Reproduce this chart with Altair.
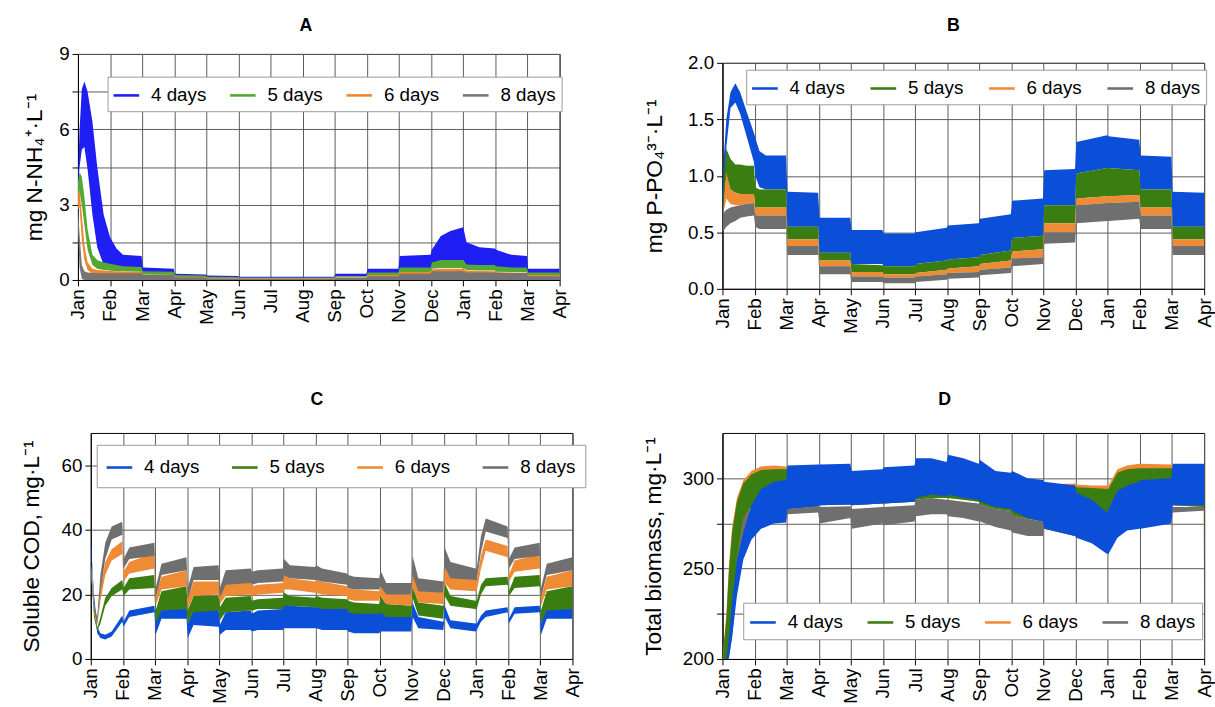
import altair as alt
import pandas as pd

FONT = "Liberation Sans"
SERIES = ["4 days", "5 days", "6 days", "8 days"]
MONTH_LABELS = ["Jan", "Feb", "Mar", "Apr", "May", "Jun", "Jul", "Aug",
                "Sep", "Oct", "Nov", "Dec", "Jan", "Feb", "Mar", "Apr"]
MONTH_TICKS = [0, 1, 2, 3, 4, 5, 6, 7, 8, 9, 10, 11, 12, 13, 14, 15]

COLORS_A = ["#1e1ef5", "#52a830", "#f0852d", "#757575"]
COLORS_BCD = ["#0b4fd8", "#3a7d10", "#ef8a35", "#6f6f6f"]

# ---------------- Panel A : ammonium (mg N-NH4+/L) ----------------
TA = [0, 0.05, 0.12, 0.2, 0.3, 0.45, 0.6, 0.8, 1.0, 1.2, 1.4, 1.98, 2.02, 2.98, 3.02, 3.98,
      4.02, 4.98, 5.02, 7.98, 8.02, 8.98, 9.02, 9.98, 10.02, 10.98, 11.02, 11.3, 11.6, 12.0,
      12.1, 12.5, 12.98, 13.02, 13.5, 13.98, 14.02, 15.0]
A4_hi = [4.0, 6.0, 7.6, 7.9, 7.5, 6.3, 4.5, 2.6, 1.7, 1.25, 1.0, 0.95, 0.5, 0.45, 0.25, 0.22,
         0.18, 0.16, 0.13, 0.13, 0.25, 0.25, 0.45, 0.45, 0.95, 1.0, 1.2, 1.75, 1.95, 2.1,
         1.5, 1.3, 1.25, 1.2, 1.0, 0.95, 0.45, 0.45]
A4_lo = [3.7, 4.5, 5.2, 5.3, 4.4, 2.6, 1.3, 0.6, 0.55, 0.55, 0.5, 0.5, 0.3, 0.3, 0.15, 0.15,
         0.1, 0.1, 0.08, 0.08, 0.15, 0.15, 0.25, 0.25, 0.45, 0.45, 0.6, 0.7, 0.7, 0.7,
         0.55, 0.5, 0.5, 0.45, 0.45, 0.45, 0.25, 0.25]
A5_hi = [3.9, 4.3, 4.1, 3.3, 2.0, 1.0, 0.8, 0.7, 0.65, 0.6, 0.55, 0.52, 0.35, 0.33, 0.2, 0.18,
         0.13, 0.12, 0.1, 0.1, 0.15, 0.15, 0.3, 0.3, 0.5, 0.5, 0.7, 0.8, 0.8, 0.8,
         0.62, 0.6, 0.6, 0.55, 0.5, 0.5, 0.3, 0.3]
A5_lo = [3.0, 3.5, 3.0, 2.2, 1.2, 0.6, 0.45, 0.4, 0.38, 0.35, 0.35, 0.33, 0.22, 0.2, 0.12, 0.11,
         0.08, 0.08, 0.06, 0.06, 0.1, 0.1, 0.2, 0.2, 0.32, 0.32, 0.45, 0.48, 0.48, 0.48,
         0.4, 0.38, 0.38, 0.33, 0.32, 0.32, 0.2, 0.2]
A6_hi = [3.4, 3.6, 2.6, 1.4, 0.7, 0.45, 0.4, 0.38, 0.36, 0.35, 0.34, 0.33, 0.22, 0.21, 0.13, 0.12,
         0.09, 0.09, 0.07, 0.07, 0.1, 0.1, 0.2, 0.2, 0.32, 0.32, 0.42, 0.45, 0.45, 0.45,
         0.38, 0.36, 0.35, 0.32, 0.3, 0.3, 0.2, 0.2]
A6_lo = [2.8, 2.9, 1.6, 0.8, 0.4, 0.25, 0.22, 0.2, 0.2, 0.2, 0.2, 0.2, 0.13, 0.13, 0.08, 0.08,
         0.05, 0.05, 0.04, 0.04, 0.06, 0.06, 0.12, 0.12, 0.2, 0.2, 0.26, 0.28, 0.28, 0.28,
         0.24, 0.22, 0.22, 0.2, 0.19, 0.19, 0.12, 0.12]
A8_hi = [3.0, 1.8, 0.6, 0.35, 0.3, 0.28, 0.27, 0.27, 0.27, 0.27, 0.27, 0.27, 0.2, 0.2, 0.1, 0.1,
         0.06, 0.06, 0.05, 0.05, 0.08, 0.08, 0.15, 0.15, 0.25, 0.25, 0.35, 0.35, 0.35, 0.35,
         0.3, 0.3, 0.3, 0.28, 0.28, 0.28, 0.15, 0.15]
A8_lo = [2.0, 0.5, 0.05, 0.0, 0.0, 0.0, 0.0, 0.0, 0.0, 0.0, 0.0, 0.0, 0.0, 0.0, 0.0, 0.0,
         0.0, 0.0, 0.0, 0.0, 0.0, 0.0, 0.0, 0.0, 0.0, 0.0, 0.0, 0.0, 0.0, 0.0,
         0.0, 0.0, 0.0, 0.0, 0.0, 0.0, 0.0, 0.0]

# ---------------- Panel B : phosphate (mg P-PO4/L) ----------------
TB = [0, 0.05, 0.12, 0.25, 0.4, 0.55, 0.75, 0.98, 1.02, 1.15, 1.35, 1.98, 2.02, 2.98, 3.02, 3.98,
      4.02, 4.98, 5.02, 5.98, 6.02, 6.98, 7.02, 7.98, 8.02, 8.98, 9.02, 9.98, 10.02, 10.98,
      11.02, 11.98, 12.02, 12.98, 13.02, 13.98, 14.02, 15.0]
B4_hi = [0.5, 1.2, 1.5, 1.74, 1.82, 1.74, 1.57, 1.38, 1.34, 1.22, 1.18, 1.18, 0.86, 0.85, 0.63, 0.63,
         0.52, 0.52, 0.49, 0.49, 0.5, 0.54, 0.56, 0.58, 0.62, 0.66, 0.78, 0.8, 1.05, 1.06,
         1.3, 1.36, 1.35, 1.32, 1.18, 1.17, 0.86, 0.85]
B4_lo = [0.5, 0.75, 1.25, 1.6, 1.65, 1.55, 1.35, 1.12, 1.0, 0.9, 0.88, 0.88, 0.55, 0.55, 0.32, 0.32,
         0.22, 0.22, 0.2, 0.2, 0.22, 0.25, 0.26, 0.28, 0.3, 0.34, 0.45, 0.47, 0.74, 0.74,
         1.02, 1.07, 1.07, 1.05, 0.88, 0.88, 0.55, 0.55]
B5_hi = [0.5, 1.0, 1.24, 1.15, 1.1, 1.1, 1.09, 1.09, 0.9, 0.88, 0.88, 0.88, 0.55, 0.55, 0.32, 0.32,
         0.22, 0.21, 0.2, 0.2, 0.22, 0.25, 0.26, 0.28, 0.3, 0.34, 0.45, 0.47, 0.74, 0.74,
         1.02, 1.07, 1.07, 1.05, 0.88, 0.88, 0.55, 0.55]
B5_lo = [0.5, 0.8, 1.0, 0.88, 0.85, 0.84, 0.84, 0.84, 0.72, 0.72, 0.72, 0.72, 0.44, 0.44, 0.25, 0.25,
         0.15, 0.15, 0.13, 0.13, 0.14, 0.17, 0.18, 0.2, 0.22, 0.25, 0.33, 0.35, 0.58, 0.58,
         0.8, 0.82, 0.82, 0.83, 0.72, 0.72, 0.44, 0.44]
B6_hi = [0.5, 0.8, 1.03, 0.88, 0.85, 0.84, 0.84, 0.84, 0.72, 0.72, 0.72, 0.72, 0.44, 0.44, 0.25, 0.25,
         0.15, 0.15, 0.13, 0.13, 0.14, 0.17, 0.18, 0.2, 0.22, 0.25, 0.33, 0.35, 0.58, 0.58,
         0.8, 0.82, 0.82, 0.83, 0.72, 0.72, 0.44, 0.44]
B6_lo = [0.5, 0.7, 0.8, 0.75, 0.74, 0.74, 0.75, 0.76, 0.65, 0.65, 0.65, 0.65, 0.38, 0.38, 0.2, 0.2,
         0.11, 0.11, 0.1, 0.1, 0.11, 0.13, 0.14, 0.15, 0.17, 0.19, 0.27, 0.28, 0.5, 0.5,
         0.74, 0.76, 0.76, 0.77, 0.65, 0.65, 0.38, 0.38]
B8_hi = [0.5, 0.68, 0.7, 0.72, 0.73, 0.74, 0.75, 0.76, 0.65, 0.65, 0.65, 0.65, 0.38, 0.38, 0.2, 0.2,
         0.11, 0.11, 0.1, 0.1, 0.11, 0.13, 0.14, 0.15, 0.17, 0.19, 0.27, 0.28, 0.5, 0.5,
         0.74, 0.76, 0.76, 0.77, 0.65, 0.65, 0.38, 0.38]
B8_lo = [0.5, 0.52, 0.55, 0.58, 0.6, 0.63, 0.64, 0.65, 0.55, 0.53, 0.53, 0.53, 0.3, 0.3, 0.13, 0.13,
         0.06, 0.06, 0.05, 0.05, 0.06, 0.08, 0.09, 0.1, 0.12, 0.14, 0.2, 0.22, 0.4, 0.41,
         0.58, 0.6, 0.6, 0.62, 0.53, 0.53, 0.3, 0.3]

# ---------------- Panel C : soluble COD (mg/L) ----------------
TC = [0, 0.1, 0.2, 0.3, 0.45, 0.65, 0.98, 1.02, 1.2, 1.98, 2.02, 2.2, 2.98, 3.02, 3.2, 3.98,
      4.02, 4.2, 4.98, 5.02, 5.2, 5.98, 6.02, 6.2, 6.98, 7.02, 7.2, 7.98, 8.02, 8.2, 8.98,
      9.02, 9.2, 9.98, 10.02, 10.2, 10.98, 11.02, 11.2, 11.98, 12.02, 12.15, 12.3, 12.98,
      13.02, 13.2, 13.98, 14.02, 14.2, 14.99, 15.0]
C4_hi = [37, 20, 10, 8, 7.5, 8.5, 13.5, 11.5, 15, 16.5, 12, 16, 17, 11, 15, 15.5,
         10.5, 14.5, 15, 14, 15, 15.5, 17.5, 16.5, 16, 16.5, 16, 15.5, 15, 14.5, 14.5,
         15, 13.5, 13, 17.5, 13, 11.5, 16.5, 12, 11, 11, 13.5, 15, 16,
         12.5, 16, 16.5, 11, 16, 16.5, 16.5]
C4_lo = [35, 17, 8, 6.5, 6, 7, 11.5, 10, 13, 14.5, 7.5, 12.5, 12.5, 6.5, 10.5, 10,
         7.5, 9, 9, 8.5, 9, 9, 9.5, 9.5, 9.5, 9.5, 9, 9, 8.5, 8, 8,
         8.5, 8.5, 8.5, 13, 9.5, 9, 13, 9.5, 8.5, 9, 11.5, 13, 14.5,
         11, 14, 14.5, 7.5, 12.5, 12.5, 12.5]
C5_hi = [30, 15, 9.5, 13, 19, 22, 24.5, 22, 25, 26, 15, 21, 22.5, 15, 19.5, 19.5,
         16, 19, 19.5, 18, 18.5, 19, 20.5, 19.5, 19, 19.5, 19, 18.5, 18, 17.5, 17,
         19.5, 17, 16.5, 22.5, 17.5, 16.5, 23.5, 19.5, 18, 18, 23, 25, 25.5,
         21, 25.5, 26, 15, 21, 22.5, 70]
C5_lo = [28, 13, 8.5, 11, 16.5, 19.5, 21.5, 19.5, 21.5, 22, 11, 15, 15.5, 11, 14.5, 15,
         12, 14.5, 15, 15, 15.5, 15.5, 16.5, 16.5, 16, 16, 15.5, 15.5, 14.5, 14, 14,
         14.5, 13, 13, 19, 13.5, 12.5, 19.5, 16.5, 15.5, 15.5, 20, 22.5, 23,
         19.5, 22, 22.5, 11, 15, 15.5, 15.5]
C6_hi = [30, 16, 12, 22, 30, 34, 36.5, 27, 30, 33, 20, 25.5, 27.5, 19, 24, 24,
         20, 23.5, 23.5, 22.5, 23, 23.5, 26.5, 25, 24, 24.5, 24, 22.5, 22, 21.5, 21,
         24.5, 20.5, 20, 28.5, 22, 20.5, 30.5, 26, 24.5, 24.5, 32, 37, 35,
         26, 30.5, 32.5, 19, 25.5, 27.5, 27.5]
C6_lo = [28, 14, 10.5, 18, 26, 30.5, 32.5, 24, 26.5, 28, 16.5, 21.5, 22.5, 15.5, 19.5, 20,
         17, 19.5, 20, 19.5, 20, 20.5, 21.5, 21.5, 20.5, 20.5, 20, 19.5, 18.5, 18, 18,
         19.5, 17, 16.5, 22.5, 17.5, 17, 23.5, 21.5, 21, 21, 28, 33.5, 31.5,
         24, 27, 28, 16.5, 21.5, 22.5, 22.5]
C8_hi = [30, 17, 13, 26, 36, 41, 42.5, 31, 34.5, 36, 22, 29.5, 31.5, 22, 28.5, 29,
         22, 27.5, 28, 27, 27.5, 28, 31, 29, 28.5, 29, 28, 26.5, 26, 25.5, 25,
         27.5, 23.5, 23.5, 32, 25, 24, 34.5, 30, 28, 28, 38, 43.5, 41,
         31, 34.5, 36, 22, 29.5, 31.5, 31.5]
C8_lo = [28, 15, 11, 21, 31, 37, 38.5, 28, 31, 32, 19, 26, 27.5, 18.5, 24.5, 24.5,
         19, 23, 23.5, 23, 23.5, 24, 26, 25, 24.5, 24.5, 24, 23, 22, 21.5, 21.5,
         22.5, 20, 20, 26, 21, 20.5, 28.5, 25, 24.5, 24.5, 33, 39.5, 37.5,
         28, 31, 32, 19, 26, 27.5, 27.5]

# ---------------- Panel D : total biomass (mg/L) ----------------
TD = [0.0, 0.12, 0.2, 0.3, 0.45, 0.65, 0.9, 1.2, 1.6, 1.98, 2.02, 2.98, 3.02, 3.98, 4.02, 4.98,
      5.02, 5.98, 6.02, 6.5, 6.98, 7.02, 7.5, 7.98, 8.02, 8.5, 8.98, 9.02, 9.5, 9.98,
      10.02, 10.98, 11.02, 11.5, 11.98, 12.02, 12.3, 12.6, 12.98, 13.02, 13.98, 14.02, 14.99, 15.0]
D4_hi = [196, 200, 212, 232, 255, 270, 285, 294, 298, 299, 307, 307.5, 307.5, 308, 304, 305,
         306, 307, 311, 311, 309, 313, 311, 308, 310, 304, 303, 304, 300, 299,
         298, 296, 292, 288, 281, 283, 293, 296, 298, 299, 300, 308, 308, 308]
D4_lo = [190, 198, 201, 212, 235, 255, 266, 272, 275, 275.5, 283, 284.5, 285, 285.5, 285, 286,
         286, 287, 289, 291, 290, 291, 289, 288, 287, 284, 283, 282, 278, 276,
         272, 268, 267, 264, 258, 258, 267, 271, 272, 272, 275, 285, 285, 285]
D5_hi = [200, 222, 248, 270, 287, 297, 302, 304.5, 305, 305, 305.5, 306, 300, 300, 298, 298,
         298, 298, 300, 300, 300, 300, 300, 298, 298, 295, 293, 292, 289, 287,
         296, 296, 295, 294.5, 294, 294, 303, 305, 305.5, 305.5, 305.5, 306, 306, 285]
D5_lo = [200, 200, 202, 225, 255, 278, 284, 285, 285, 285, 283, 284.5, 285, 285.5, 285, 286,
         286, 287, 288, 289, 289, 289, 288, 287, 285.5, 283, 282, 279.5, 277.5, 276,
         272, 268, 278, 282, 280, 280, 288, 290, 292, 292, 294, 285, 284, 200]
D6_hi = [200, 225, 252, 273, 289, 299, 304, 306.5, 307, 306.5, 306.5, 307, 300, 300, 298, 298,
         298, 298, 300, 300, 300, 300, 300, 298, 298, 295, 293, 292, 289, 287,
         296.5, 297, 296.5, 296, 296, 296, 305, 307, 308, 308, 307.5, 307, 307, 285]
D6_lo = [200, 200, 202, 225, 255, 278, 284, 285, 285, 285, 283, 284.5, 285, 285.5, 285, 286,
         286, 287, 288, 289, 289, 289, 288, 287, 285.5, 283, 282, 279.5, 277.5, 276,
         272, 268, 278, 282, 280, 280, 288, 290, 292, 292, 294, 285, 284, 200]
D8_hi = [200, 200, 203, 228, 262, 280, 283, 284, 284, 284, 283, 284.5, 284, 284.5, 283, 284,
         284, 285, 288, 289, 288, 288, 287, 286, 285.5, 283, 282, 279.5, 277.5, 276,
         278, 274, 273, 270, 264, 264, 273, 277, 278, 278, 281, 284, 284, 284]
D8_lo = [200, 200, 200, 212, 240, 265, 272, 275, 276, 277, 280, 281, 275, 278, 272, 275,
         274, 276, 279, 280, 280, 279, 278, 276, 276, 273, 271, 270, 268, 268,
         273, 269, 268, 265, 259, 259, 268, 272, 273, 273, 276, 281, 282, 282]


def build_df(t, bands):
    rows = []
    for name, (lo, hi) in zip(SERIES, bands):
        for ti, l, h in zip(t, lo, hi):
            rows.append({"t": ti, "lo": l, "hi": h, "series": name})
    return pd.DataFrame(rows)


X_LABEL_EXPR = "[" + ",".join("'%s'" % m for m in MONTH_LABELS) + "][datum.value]"
LINE_SYMBOL = "M-1,-0.1L1,-0.1L1,0.1L-1,0.1Z"
RES = dict(x="independent", y="independent", color="independent")


def panel(letter, title_dx, title_offset, df, colors, draw_order, ydomain, yvalues, yformat,
          ylabel_expr, ytitle, title_pad, legend_x, legend_y, legend_colpad, legend_pad):
    x = alt.X("t:Q", scale=alt.Scale(domain=[0, 15], nice=False, zero=False),
              axis=alt.Axis(values=MONTH_TICKS, labelExpr=X_LABEL_EXPR, title=None,
                            labelAngle=270, labelFlush=False, labelOverlap=False, grid=True))
    ykw = dict(values=yvalues, format=yformat, title=ytitle, titlePadding=title_pad, grid=True,
               labelOverlap=False, labelFlush=False)
    if ylabel_expr:
        ykw["labelExpr"] = ylabel_expr
    y = alt.Y("lo:Q", scale=alt.Scale(domain=ydomain, nice=False, zero=False), axis=alt.Axis(**ykw))
    legend = alt.Legend(title=None, orient="none", legendX=legend_x, legendY=legend_y,
                        direction="horizontal", symbolType=LINE_SYMBOL, symbolSize=676,
                        symbolStrokeWidth=0, labelFontSize=19, labelFont=FONT,
                        labelColor="black", labelOffset=12, columnPadding=legend_colpad,
                        padding=legend_pad, strokeColor="#999999", fillColor="white",
                        labelLimit=0, symbolOpacity=1)
    color = alt.Color("series:N", scale=alt.Scale(domain=SERIES, range=colors), legend=legend)
    layers = []
    for s in draw_order:
        layers.append(
            alt.Chart(df).transform_filter(alt.datum.series == s)
            .mark_area(clip=True, interpolate="linear", opacity=1)
            .encode(x=x, y=y, y2=alt.Y2("hi:Q"), color=color)
        )
    return alt.layer(*layers).properties(
        width=488, height=229,
        title=alt.TitleParams(text=letter, fontSize=18, font=FONT, fontWeight="bold",
                              anchor="middle", frame="group", dx=title_dx, offset=title_offset,
                              color="black"),
    )


SPACER_DF = pd.DataFrame({"v": [0]})


def spacer():
    # invisible 1x1 view: it only anchors the layout origin of a panel cell
    return (
        alt.Chart(SPACER_DF).mark_point(size=0, opacity=0)
        .encode(x=alt.X("v:Q", axis=None), y=alt.Y("v:Q", axis=None))
        .properties(width=1, height=1, view=alt.ViewBackground(stroke="transparent"))
    )


def cell(p, shift_x):
    inner = alt.hconcat(spacer(), p, spacing=shift_x).resolve_scale(**RES)
    return alt.vconcat(spacer(), inner, spacing=0).resolve_scale(**RES)


dfA = build_df(TA, [(A4_lo, A4_hi), (A5_lo, A5_hi), (A6_lo, A6_hi), (A8_lo, A8_hi)])
dfB = build_df(TB, [(B4_lo, B4_hi), (B5_lo, B5_hi), (B6_lo, B6_hi), (B8_lo, B8_hi)])
dfC = build_df(TC, [(C4_lo, C4_hi), (C5_lo, C5_hi), (C6_lo, C6_hi), (C8_lo, C8_hi)])
dfD = build_df(TD, [(D4_lo, D4_hi), (D5_lo, D5_hi), (D6_lo, D6_hi), (D8_lo, D8_hi)])

ORDER_FRONT_GRAY = ["4 days", "5 days", "6 days", "8 days"]
ORDER_FRONT_BLUE = ["8 days", "6 days", "5 days", "4 days"]

pA = panel("A", -13, 10, dfA, COLORS_A, ORDER_FRONT_GRAY, [0, 9],
           [0, 1.5, 3, 4.5, 6, 7.5, 9], ".1f",
           "datum.value % 3 == 0 ? format(datum.value, 'd') : ''",
           "mg N-NH\u2084\u207a\u00b7L\u207b\u00b9", 12, 30, 23, 24, 6)
pB = panel("B", -10, 19, dfB, COLORS_BCD, ORDER_FRONT_GRAY, [0, 2],
           [0, 0.5, 1, 1.5, 2], ".1f", None,
           "mg P-PO\u2084\u00b3\u207b\u00b7L\u207b\u00b9", 21, 24, 7, 26, 6)
pC = panel("C", -15, 24, dfC, COLORS_BCD, ORDER_FRONT_GRAY, [0, 70],
           [0, 20, 40, 60], "d", None,
           "Soluble COD, mg\u00b7L\u207b\u00b9", 18, 6, 12, 33, 10)
pD = panel("D", -19, 24, dfD, COLORS_BCD, ORDER_FRONT_BLUE, [200, 325],
           [200, 225, 250, 275, 300], "d",
           "datum.value % 50 == 0 ? datum.label : ''",
           "Total biomass, mg\u00b7L\u207b\u00b9", 17, 21, 172, 25, 7)

row1 = alt.hconcat(cell(pA, 20), cell(pB, 71), spacing=0).resolve_scale(**RES)
row2 = alt.hconcat(cell(pC, 17), cell(pD, 53), spacing=0).resolve_scale(**RES)

chart = (
    alt.vconcat(row1, row2, spacing=54)
    .resolve_scale(**RES)
    .properties(padding={"left": 0, "top": 9, "right": 0, "bottom": 0}, background="white")
    .configure_view(stroke="black", strokeWidth=1)
    .configure_axis(labelFont=FONT, labelFontSize=19, labelColor="black", titleFont=FONT,
                    titleFontSize=23, titleFontWeight="normal", titleColor="black",
                    domainColor="black", tickColor="black", tickSize=6, gridColor="#5a5a5a",
                    gridWidth=1, labelPadding=3)
)

chart.save("out.html", embed_options={"renderer": "svg", "actions": False})
